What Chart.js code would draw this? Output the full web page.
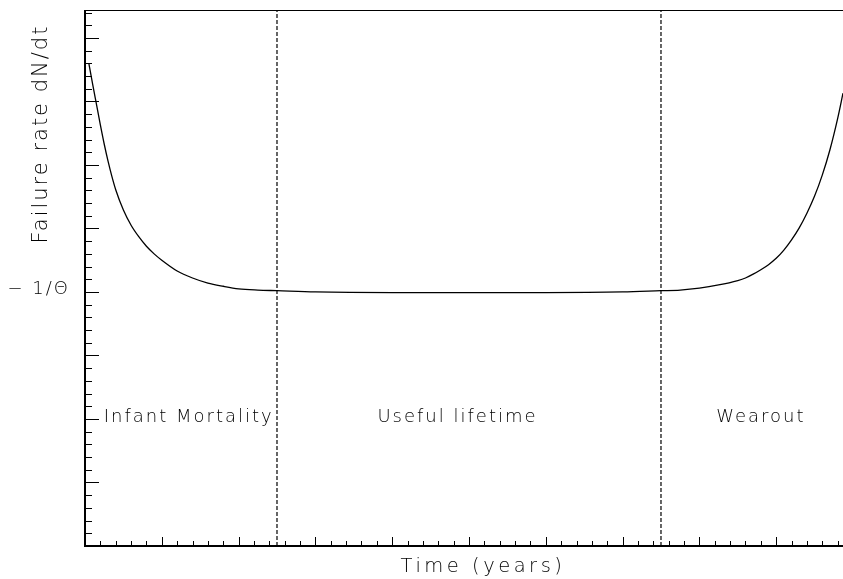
<!DOCTYPE html>
<html>
<head>
<meta charset="utf-8">
<script src="https://cdn.jsdelivr.net/npm/chart.js@4.4.0/dist/chart.umd.min.js"></script>
<style>
  html, body { margin: 0; padding: 0; background: #fff; overflow: hidden; }
  canvas { display: block; }
</style>
</head>
<body>
<canvas id="failure-chart" width="843" height="579"></canvas>
<script>
// curve (time in years, failure rate in axis units)
var timeYears = [0.05, 0.10, 0.15, 0.20, 0.25, 0.30, 0.35, 0.40, 0.50, 0.60, 0.70, 0.80, 0.90,
                 1.00, 1.20, 1.40, 1.60, 1.80, 2.00, 2.25, 2.50,
                 3.0, 4.0, 5.0, 6.0, 7.0,
                 7.50, 7.75, 8.00, 8.25, 8.50, 8.60, 8.70, 8.80, 8.90, 9.00, 9.10, 9.20,
                 9.30, 9.40, 9.50, 9.60, 9.70, 9.80, 9.87];
var failureRate = [7.60, 7.27, 6.95, 6.63, 6.33, 6.06, 5.82, 5.61, 5.29, 5.05, 4.87, 4.72, 4.60,
                   4.50, 4.33, 4.22, 4.14, 4.09, 4.05, 4.03, 4.02,
                   4.00, 3.99, 3.99, 3.99, 4.00,
                   4.02, 4.03, 4.06, 4.11, 4.18, 4.22, 4.28, 4.35, 4.43, 4.53, 4.66, 4.82,
                   5.01, 5.24, 5.51, 5.84, 6.24, 6.73, 7.13];

var phaseBounds = [2.5, 7.5];
var phaseLabels = ['Infant Mortality', 'Useful lifetime', 'Wearout'];
var phaseLabelX = [1.35, 4.85, 8.80];
var phaseLabelY = 1.96;

var yTickValues = [4];
var yTickLabels = ['\u2212 1/\u0398'];

var xMax = 9.87, yMax = 8.44;
var thinFont = "'DejaVu Sans', sans-serif";

var curve = timeYears.map(function (t, i) { return { x: t, y: failureRate[i] }; });

var datasets = [{
  data: curve,
  borderColor: '#000',
  borderWidth: 1.3,
  pointRadius: 0,
  cubicInterpolationMode: 'monotone',
  fill: false
}];

phaseBounds.forEach(function (b) {
  datasets.push({
    data: [{ x: b, y: 0 }, { x: b, y: yMax }],
    borderColor: '#000',
    borderWidth: 1.2,
    borderDash: [4, 2],
    pointRadius: 0,
    fill: false
  });
});

// ROOT-like frame: thick axes with ticks drawn on the inside
var framePlugin = {
  id: 'frame',
  afterDatasetsDraw: function (chart) {
    var ctx = chart.ctx, a = chart.chartArea;
    var xs = chart.scales.x, ys = chart.scales.y;
    ctx.save();
    ctx.strokeStyle = '#000';

    ctx.lineWidth = 1;
    ctx.beginPath();
    ctx.moveTo(a.left, a.top + 0.5);
    ctx.lineTo(a.right, a.top + 0.5);
    ctx.stroke();

    ctx.lineWidth = 2;
    ctx.beginPath();
    ctx.moveTo(a.left, a.top);
    ctx.lineTo(a.left, a.bottom);
    ctx.lineTo(a.right, a.bottom);
    ctx.stroke();

    ctx.lineWidth = 1;
    var i, v, p;
    for (i = 0; i <= 42; i++) {
      v = i * 0.2;
      p = Math.round(ys.getPixelForValue(v)) + 0.5;
      ctx.beginPath();
      ctx.moveTo(a.left, p);
      ctx.lineTo(a.left + (i % 5 === 0 ? 14 : 7), p);
      ctx.stroke();
    }
    for (i = 0; i <= 49; i++) {
      v = i * 0.2;
      p = Math.round(xs.getPixelForValue(v)) + 0.5;
      ctx.beginPath();
      ctx.moveTo(p, a.bottom);
      ctx.lineTo(p, a.bottom - (i % 5 === 0 ? 9 : 5));
      ctx.stroke();
    }

    ctx.fillStyle = '#000';
    ctx.letterSpacing = '2px';
    ctx.font = '200 18px ' + thinFont;
    ctx.textAlign = 'right';
    ctx.textBaseline = 'alphabetic';
    yTickValues.forEach(function (val, k) {
      ctx.fillText(yTickLabels[k], a.left - 15, ys.getPixelForValue(val) + 2);
    });

    ctx.textAlign = 'center';
    phaseLabels.forEach(function (txt, k) {
      ctx.fillText(txt, xs.getPixelForValue(phaseLabelX[k]), ys.getPixelForValue(phaseLabelY));
    });

    ctx.letterSpacing = '3.5px';
    ctx.font = '200 19.5px ' + thinFont;
    ctx.fillText('Time (years)', 483, 572);

    ctx.letterSpacing = '2px';
    ctx.font = '200 21px ' + thinFont;
    ctx.translate(47, 134);
    ctx.rotate(-Math.PI / 2);
    ctx.fillText('Failure rate dN/dt', 0, 0);
    ctx.restore();
  }
};

new Chart('failure-chart', {
  type: 'line',
  data: { datasets: datasets },
  options: {
    responsive: false,
    animation: false,
    layout: { padding: { left: 85, top: 10, right: 0, bottom: 33 } },
    plugins: { legend: { display: false }, tooltip: { enabled: false } },
    scales: {
      x: { type: 'linear', min: 0, max: xMax, display: false },
      y: { type: 'linear', min: 0, max: yMax, display: false }
    }
  },
  plugins: [framePlugin]
});
</script>
</body>
</html>
